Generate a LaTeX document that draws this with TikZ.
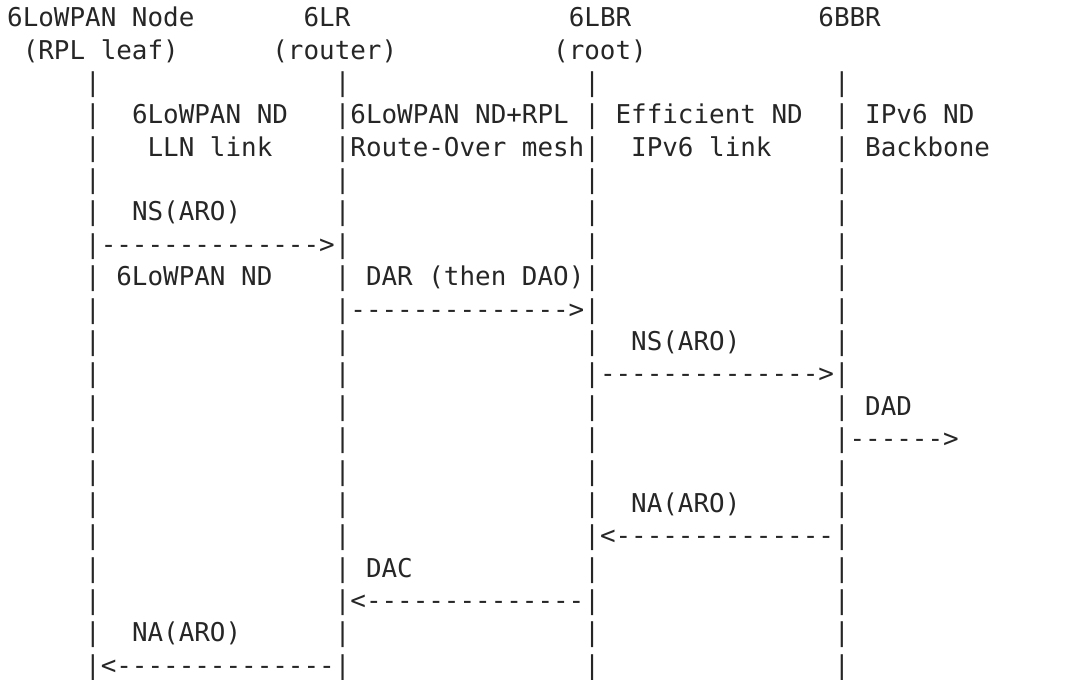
\documentclass[tikz,border=0pt]{standalone}
\usepackage{fontspec}
\setmonofont{DejaVu Sans Mono}
\definecolor{ink}{HTML}{262626}
\newcommand\seg[4]{\node[txt] (#1) at ({7.2+15.6*(#2)},{26.7+32.38*((#3)-1)}) {#4};}
\begin{document}
\begin{tikzpicture}[x=0.75pt,y=-0.75pt,
  txt/.style={inner sep=0pt,outer sep=0pt,anchor=base west,
    font=\ttfamily\fontsize{19.43}{23}\selectfont,text=ink}]
\useasboundingbox (0,0) rectangle (1091,680);
% headers
\seg{hnode}{0}{1}{6LoWPAN Node}
\seg{hlr}{19}{1}{6LR}
\seg{hlbr}{36}{1}{6LBR}
\seg{hbbr}{52}{1}{6BBR}
\seg{snode}{1}{2}{(RPL leaf)}
\seg{slr}{17}{2}{(router)}
\seg{slbr}{35}{2}{(root)}
% lifelines
\foreach \r in {3,...,21}{
  \foreach \c/\n in {5/a,21/b,37/c,53/d}{
    \seg{p\n\r}{\c}{\r}{|}
  }
}
% link descriptions
\seg{lk1a}{8}{4}{6LoWPAN ND}
\seg{lk2a}{22}{4}{6LoWPAN ND+RPL}
\seg{lk3a}{39}{4}{Efficient ND}
\seg{lk4a}{55}{4}{IPv6 ND}
\seg{lk1b}{9}{5}{LLN link}
\seg{lk2b}{22}{5}{Route-Over mesh}
\seg{lk3b}{40}{5}{IPv6 link}
\seg{lk4b}{55}{5}{Backbone}
% messages
\seg{m1}{8}{7}{NS(ARO)}
\seg{a1}{6}{8}{-------------->}
\seg{m1b}{7}{9}{6LoWPAN ND}
\seg{m2}{23}{9}{DAR (then DAO)}
\seg{a2}{22}{10}{-------------->}
\seg{m3}{40}{11}{NS(ARO)}
\seg{a3}{38}{12}{-------------->}
\seg{m4}{55}{13}{DAD}
\seg{a4}{54}{14}{------>}
\seg{m5}{40}{16}{NA(ARO)}
\seg{a5}{38}{17}{<--------------}
\seg{m6}{23}{18}{DAC}
\seg{a6}{22}{19}{<--------------}
\seg{m7}{8}{20}{NA(ARO)}
\seg{a7}{6}{21}{<--------------}
\end{tikzpicture}
\end{document}
